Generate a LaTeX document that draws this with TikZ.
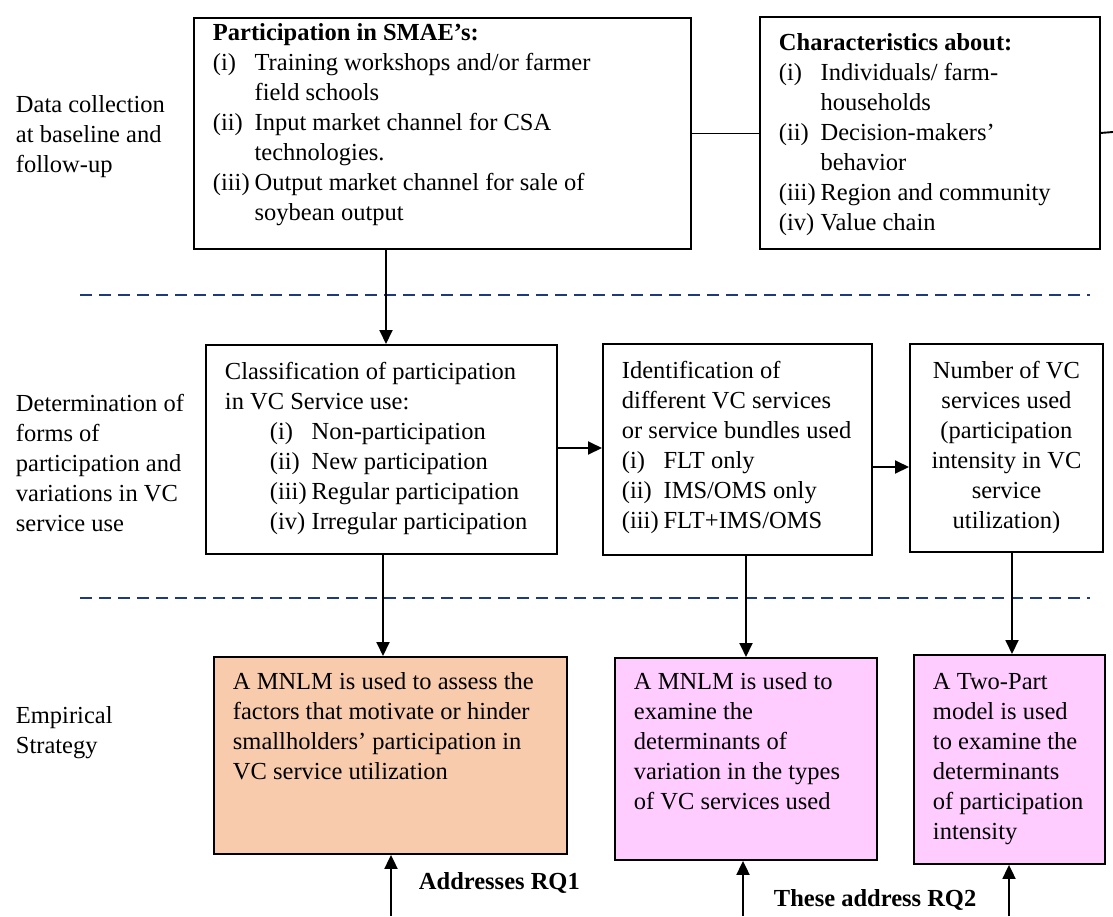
\documentclass[tikz,border=0pt]{standalone}
\usepackage{fontspec}
\setmainfont{Liberation Serif}
\usepackage{tikz}
\usetikzlibrary{arrows.meta}
\definecolor{peach}{HTML}{F8CBAD}
\definecolor{orchid}{HTML}{FFCCFF}
\definecolor{rulenavy}{HTML}{1F3A7A}
\tikzset{
  stagebox/.style={draw, anchor=north west, inner xsep=0pt, inner ysep=17pt},
  rowlabel/.style={anchor=west, align=left, inner sep=0pt},
  tag/.style={anchor=west, inner sep=0pt, font=\fontsize{24.5pt}{30pt}\selectfont\bfseries}
}
\newcommand{\itm}[1]{\makebox[1.7em][l]{#1}}
\newcommand{\vcstage}[6] {\node at (#1) (#2) [stagebox, #3] {\parbox[c][#5][t]{#4}{\leftskip=19pt\rightskip=0pt plus 1fil\relax #6}};}
\newcommand{\vclabel}[3] {\node at (#1) (#2) [rowlabel] {#3};}
\newcommand{\vcflow}[2] {\draw [->] (#1) -- (#2);}
\newcommand{\vclink}[2] {\draw (#1) -- (#2);}
\newcommand{\vcrule}[2] {\draw [rulenavy, line width=2.7pt, dash pattern=on 12pt off 7pt] (#1) -- (#2);}

\begin{document}
\begin{tikzpicture}[x=1pt, y=-1pt, line width=1.9pt, >={Triangle[length=14pt,width=13pt]}, font=\fontsize{24.5pt}{30pt}\selectfont]

\useasboundingbox (0,0) rectangle (1113,916);

\vclabel{15,137}{collect}{Data collection\\at baseline and\\follow-up}
\vclabel{15,463}{forms}{Determination of\\forms of\\participation and\\variations in VC\\service use}
\vclabel{15,733}{strategy}{Empirical\\Strategy}

\vcstage{193,17}{smae}{inner ysep=6pt}{497pt}{219pt}{\textbf{Participation in SMAE's:}\\
  \itm{(i)}Training workshops and/or farmer\\ \itm{}field schools\\
  \itm{(ii)}Input market channel for CSA\\ \itm{}technologies.\\
  \itm{(iii)}Output market channel for sale of\\ \itm{}soybean output}
\vcstage{759,16}{traits}{}{340pt}{198pt}{\textbf{Characteristics about:}\\
  \itm{(i)}Individuals/ farm-\\ \itm{}households\\
  \itm{(ii)}Decision-makers'\\ \itm{}behavior\\
  \itm{(iii)}Region and community\\
  \itm{(iv)}Value chain}

\vcstage{205,344}{classes}{}{351pt}{175pt}{Classification of participation\\ in VC Service use:\\
  \hspace*{45pt}\itm{(i)}Non-participation\\
  \hspace*{45pt}\itm{(ii)}New participation\\
  \hspace*{45pt}\itm{(iii)}Regular participation\\
  \hspace*{45pt}\itm{(iv)}Irregular participation}
\vcstage{602,343}{bundles}{}{269pt}{177pt}{Identification of\\ different VC services\\ or service bundles used\\
  \itm{(i)}FLT only\\
  \itm{(ii)}IMS/OMS only\\
  \itm{(iii)}FLT+IMS/OMS}
\vcstage{909,343}{count}{}{193pt}{174pt}{\centering Number of VC\\ services used\\ (participation\\ intensity in VC\\ service\\ utilization)}

\vcstage{213,656}{mnlmone}{fill=peach, inner ysep=16pt}{353pt}{165pt}{A MNLM is used to assess the\\ factors that motivate or hinder\\ smallholders' participation in\\ VC service utilization}
\vcstage{614,657}{mnlmtwo}{fill=orchid, inner ysep=15pt}{262pt}{172pt}{A MNLM is used to\\ examine the\\ determinants of\\ variation in the types\\ of VC services used}
\vcstage{913,654}{twopart}{fill=orchid, inner ysep=18pt}{191pt}{173pt}{A Two-Part\\ model is used\\ to examine the\\ determinants\\ of participation\\ intensity}

\coordinate (rimright) at (1113,132);
\coordinate (footone) at (391,916);
\coordinate (foottwo) at (743,916);
\coordinate (footthree) at (1009,916);

\vclink{smae.east}{smae.east -| traits.west}
\vclink{traits.east}{rimright}
\vcrule{80,295}{1090,295}
\vcrule{80,598}{1090,598}

\vcflow{smae.south -| 386,0}{classes.north -| 386,0}
\vcflow{classes.east |- 0,448}{bundles.west |- 0,448}
\vcflow{bundles.east |- 0,467}{count.west |- 0,467}
\vcflow{classes.south -| 383,0}{mnlmone.north -| 383,0}
\vcflow{bundles.south -| 746,0}{mnlmtwo.north -| 746,0}
\vcflow{count.south -| 1012,0}{twopart.north -| 1012,0}
\vcflow{footone}{footone |- mnlmone.south}
\vcflow{foottwo}{foottwo |- mnlmtwo.south}
\vcflow{footthree}{footthree |- twopart.south}

\node at (418,883) (rqone) [tag] {Addresses RQ1};
\node at (773,900) (rqtwo) [tag] {These address RQ2};

\end{tikzpicture}
\end{document}
